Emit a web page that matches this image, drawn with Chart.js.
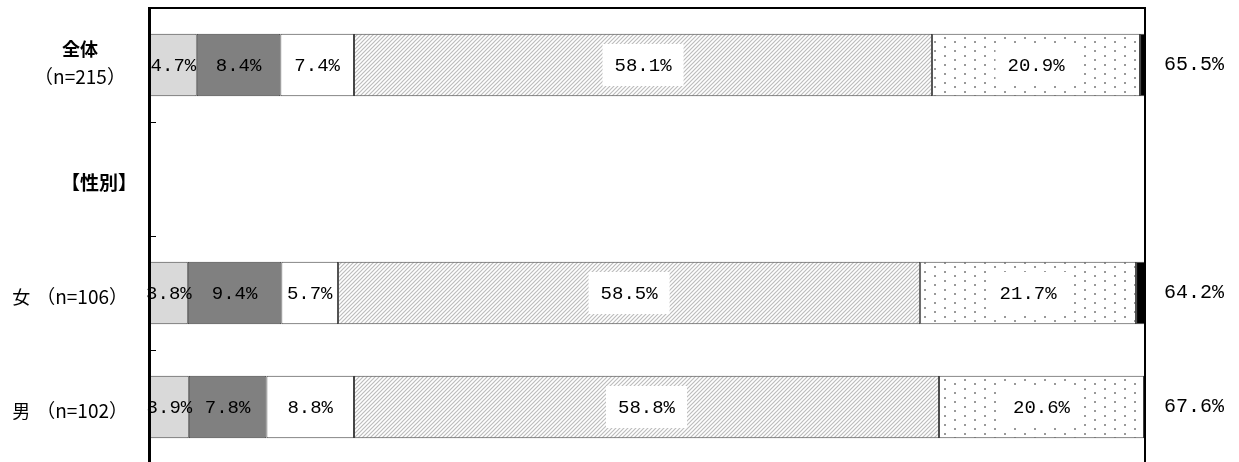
<!DOCTYPE html>
<html>
<head>
<meta charset="utf-8">
<script src="https://cdn.jsdelivr.net/npm/chart.js@4"></script>
<style>
  body { margin: 0; overflow: hidden; background: #fff; }
</style>
</head>
<body>
<canvas id="chart" width="1239" height="470"></canvas>
<script>
// categories (row 2 is the empty heading row)
const categories = ['全体', '【性別】', '女', '男'];
const sampleSizes = ['（n=215）', '', '（n=106）', '（n=102）'];

// segment values, %
const seg1 = [4.7, null, 3.8, 3.9];
const seg2 = [8.4, null, 9.4, 7.8];
const seg3 = [7.4, null, 5.7, 8.8];
const seg4 = [58.1, null, 58.5, 58.8];
const seg5 = [20.9, null, 21.7, 20.6];
const seg6 = [0.5, null, 0.9, 0];

// totals shown at the right
const totals = [65.5, null, 64.2, 67.6];

const NUM_FONT = '"Liberation Mono", "DejaVu Sans Mono", monospace';
const JP_FONT = '"Noto Sans CJK JP", sans-serif';

// --- patterns ---
function makeHatch() {
    const c = document.createElement('canvas');
    c.width = 4; c.height = 4;
    const g = c.getContext('2d');
    g.fillStyle = '#fff';
    g.fillRect(0, 0, 4, 4);
    g.strokeStyle = '#bdbdbd';
    g.lineWidth = 1.2;
    g.beginPath();
    g.moveTo(0, 4); g.lineTo(4, 0);
    g.moveTo(-1, 1); g.lineTo(1, -1);
    g.moveTo(3, 5); g.lineTo(5, 3);
    g.stroke();
    return g.createPattern(c, 'repeat');
}

function makeDots() {
    const c = document.createElement('canvas');
    c.width = 20; c.height = 9;
    const g = c.getContext('2d');
    g.fillStyle = '#fff';
    g.fillRect(0, 0, 20, 9);
    g.fillStyle = '#999999';
    g.fillRect(4, 1, 2, 2);
    g.fillRect(14, 5, 2, 2);
    return g.createPattern(c, 'repeat');
}

const fills = ['#d9d9d9', '#808080', '#ffffff', makeHatch(), makeDots(), '#000000'];
const series = [seg1, seg2, seg3, seg4, seg5, seg6];

// --- frame, ticks, row labels and totals ---
const framePlugin = {
    id: 'frame',
    afterDatasetsDraw(chart) {
        const ctx = chart.ctx;
        const a = chart.chartArea;
        const yScale = chart.scales.y;
        ctx.save();
        ctx.strokeStyle = '#000';

        ctx.lineWidth = 2;
        ctx.beginPath();
        ctx.moveTo(a.left - 2, a.top);
        ctx.lineTo(a.right + 1, a.top);
        ctx.moveTo(a.right, a.top);
        ctx.lineTo(a.right, chart.height);
        ctx.stroke();

        ctx.lineWidth = 3;
        ctx.beginPath();
        ctx.moveTo(a.left - 0.5, a.top - 1);
        ctx.lineTo(a.left - 0.5, chart.height);
        ctx.stroke();

        // short ticks between rows
        ctx.lineWidth = 1;
        ctx.beginPath();
        for (let i = 0; i < categories.length - 1; i++) {
            const y = Math.round((yScale.getPixelForValue(i) + yScale.getPixelForValue(i + 1)) / 2) + 0.5;
            ctx.moveTo(a.left, y);
            ctx.lineTo(a.left + 6, y);
        }
        ctx.stroke();

        // row labels
        ctx.fillStyle = '#000';
        ctx.textBaseline = 'middle';
        categories.forEach((cat, i) => {
            const y = yScale.getPixelForValue(i);
            if (i === 0) {
                ctx.textAlign = 'center';
                ctx.font = 'bold 18px ' + JP_FONT;
                ctx.fillText(cat, 80, y - 16);
                ctx.font = '19px ' + JP_FONT;
                ctx.fillText(sampleSizes[i], 80, y + 12);
            } else if (sampleSizes[i] === '') {
                ctx.textAlign = 'right';
                ctx.font = 'bold 19px ' + JP_FONT;
                ctx.fillText(cat, 137, y + 4);
            } else {
                ctx.textAlign = 'right';
                ctx.font = '19px ' + JP_FONT;
                const nText = sampleSizes[i];
                ctx.fillText(nText, 128, y + 4);
                const w = ctx.measureText(nText).width;
                ctx.font = '18px ' + JP_FONT;
                ctx.fillText(cat, 128 - w - 6, y + 4);
            }
        });

        // totals on the right
        ctx.textAlign = 'center';
        ctx.font = '20px ' + NUM_FONT;
        totals.forEach((t, i) => {
            if (t === null) return;
            ctx.fillText(t.toFixed(1) + '%', 1194, yScale.getPixelForValue(i));
        });
        ctx.restore();
    }
};

// --- value labels inside the bars ---
const valuePlugin = {
    id: 'values',
    afterDraw(chart) {
        const ctx = chart.ctx;
        ctx.save();
        ctx.font = '19px ' + NUM_FONT;
        ctx.textAlign = 'center';
        ctx.textBaseline = 'middle';
        for (let d = 0; d < 5; d++) {
            const meta = chart.getDatasetMeta(d);
            meta.data.forEach((bar, i) => {
                const v = series[d][i];
                if (v === null || v === undefined) return;
                const cx = (bar.x + bar.base) / 2;
                const txt = v.toFixed(1) + '%';
                if (d === 3 || d === 4) {
                    const w = ctx.measureText(txt).width;
                    ctx.fillStyle = '#fff';
                    ctx.fillRect(cx - w / 2 - 12, bar.y - 21, w + 24, 42);
                }
                ctx.fillStyle = '#000';
                ctx.fillText(txt, cx, bar.y + 1);
            });
        }
        ctx.restore();
    }
};

new Chart(document.getElementById('chart'), {
    type: 'bar',
    data: {
        labels: categories,
        datasets: series.map((s, k) => ({
            label: 'seg' + (k + 1),
            data: s,
            backgroundColor: fills[k],
            borderColor: '#404040',
            borderWidth: 1,
            borderSkipped: false,
            barPercentage: 0.55,
            categoryPercentage: 1
        }))
    },
    options: {
        indexAxis: 'y',
        responsive: false,
        animation: false,
        layout: { padding: { left: 150, right: 94, top: 8, bottom: 6 } },
        scales: {
            x: { stacked: true, min: 0, max: 100, display: false },
            y: { stacked: true, display: false }
        },
        plugins: { legend: { display: false }, tooltip: { enabled: false } }
    },
    plugins: [framePlugin, valuePlugin]
});
</script>
</body>
</html>
